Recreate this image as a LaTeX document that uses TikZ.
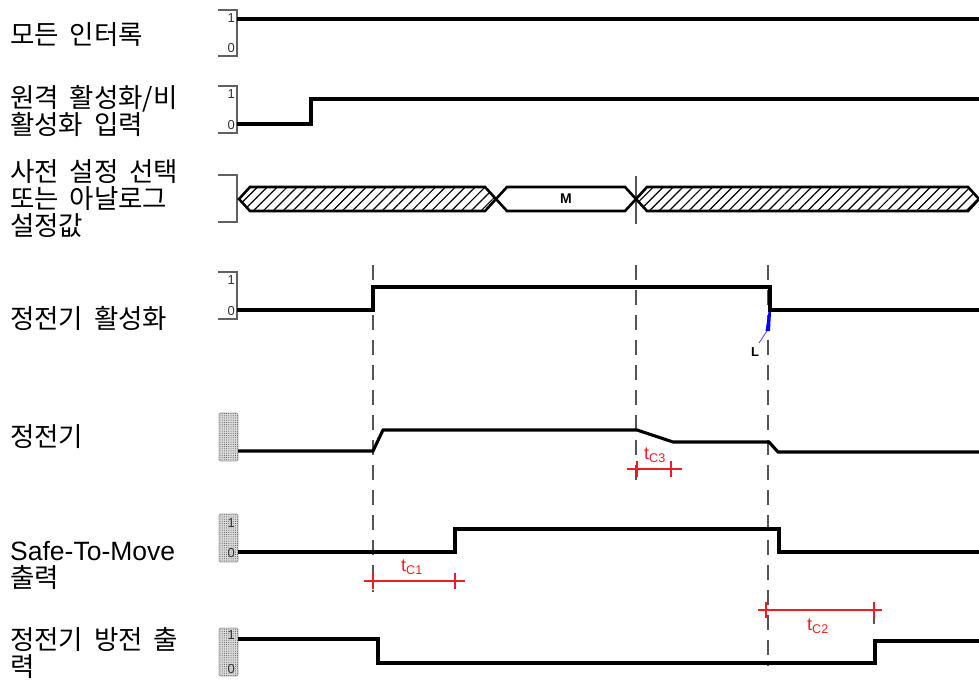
\documentclass[tikz,border=0pt]{standalone}
\usepackage{fontspec}
\setmainfont{Liberation Sans}
\newfontfamily\kfont{Noto Sans CJK KR}[WordSpace=1.8]
\usetikzlibrary{patterns.meta}
\definecolor{tickred}{RGB}{240,30,30}
\definecolor{guidegray}{RGB}{85,85,85}

\begin{document}
\begin{tikzpicture}[x=1pt,y=-1pt,
    lbl/.style={anchor=west,inner sep=0,align=left,font=\kfont\fontsize{26.5}{27}\selectfont},
    sig/.style={line width=3.1pt,black,line join=miter},
    axisbr/.style={gray!75!black,line width=1.3pt},
    lvl/.style={anchor=east,inner sep=0,text=black!80,font=\fontsize{13}{13}\selectfont},
    boxsig/.style={draw=gray!70,rounded corners=1.5pt,line width=0.8pt,fill=gray!30,
        postaction={pattern={Dots[distance=2.2pt,radius=0.5pt]},pattern color=gray!70!black}},
    bus/.style={draw,line width=2.6pt,line join=miter},
    hatch/.style={pattern={Lines[angle=45,distance=7pt,line width=1.2pt]}},
    guide/.style={guidegray,line width=1.2pt,dash pattern=on 15pt off 10pt},
    tmark/.style={tickred,line width=1.4pt},
    tlbl/.style={inner sep=0,text=tickred,font=\fontsize{18}{18}\selectfont}
]
    \useasboundingbox (0,0) rectangle (979,682);

    % row labels
    \node[lbl] (lockall) at (10,35) {모든 인터록};
    \node[lbl] (remote) at (10,111) {원격 활성화/비\\활성화 입력};
    \node[lbl] (preset) at (10,199) {사전 설정 선택\\또는 아날로그\\설정값};
    \node[lbl] (esact) at (10,318) {정전기 활성화};
    \node[lbl] (es) at (10,437) {정전기};
    \node[lbl] (stm) at (10,565) {{\rmfamily\fontsize{26.5}{27}\selectfont Safe-To-Move}\\출력};
    \node[lbl] (esout) at (10,653) {정전기 방전 출\\력};

    % level brackets
    \foreach \yt/\yb/\nm in {10/56/lock, 86/133/remote, 272/319/esact}{
        \draw[axisbr] (218,\yt) -- (237,\yt) -- (237,\yb) -- (218,\yb);
        \node[lvl] (\nm-hi) at (235,\yt+8) {1};
        \node[lvl] (\nm-lo) at (235,\yb-8) {0};
    }
    \draw[axisbr] (218,175) -- (237,175) -- (237,222) -- (218,222);
    \draw[boxsig] (219,413) rectangle (238,461);
    \draw[boxsig] (219,514) rectangle (238,562);
    \node[lvl] (stm-hi) at (235,523) {1};
    \node[lvl] (stm-lo) at (235,553) {0};
    \draw[boxsig] (219,628) rectangle (238,676);
    \node[lvl] (esout-hi) at (235,635) {1};
    \node[lvl] (esout-lo) at (235,669) {0};

    % time guides
    \draw[guide] (373,265) -- (373,592);
    \draw[guide] (636,265) -- (636,480);
    \draw[guide] (768,265) -- (768,666);
    \draw[guidegray,line width=1.3pt] (636,176) -- (636,224);

    % set value bus
    \draw[bus,hatch] (239,199) -- (250,187) -- (485,187) -- (496,199) -- (485,211) -- (250,211) -- cycle;
    \draw[bus,fill=white] (496,199) -- (507,187) -- (625,187) -- (636,199) -- (625,211) -- (507,211) -- cycle;
    \draw[bus,hatch] (636,199) -- (647,187) -- (968,187) -- (979,199) -- (968,211) -- (647,211) -- cycle;
    \node[font=\bfseries\fontsize{14}{14}\selectfont] (modeM) at (566,199) {M};

    % signals
    \draw[sig] (237,19) -- (979,19);
    \draw[sig] (237,124) -- (311,124) -- (311,99) -- (979,99);
    \draw[sig] (237,310) -- (373,310) -- (373,287) -- (770,287) -- (770,310) -- (979,310);
    \draw[sig] (238,451) -- (373,451) -- (383,430) -- (637,430) -- (673,442) -- (769,442) -- (778,452) -- (979,452);
    \draw[sig] (238,552) -- (455,552) -- (455,529) -- (779,529) -- (779,552) -- (979,552);
    \draw[sig] (238,639) -- (378,639) -- (378,663) -- (875,663) -- (875,641) -- (979,641);

    % L marker
    \fill[blue] (768.5,312) -- (771,312) -- (770,331) -- (765.5,331) -- cycle;
    \draw[blue!75,line width=0.8pt] (767,331) -- (759,343);
    \node[font=\bfseries\fontsize{13}{13}\selectfont] (markL) at (755,352) {L};

    % delay times
    \draw[tmark] (627,469) -- (682,469);
    \draw[tmark] (637,461) -- (637,477) (671,461) -- (671,477);
    \node[tlbl] (tc3) at (655,455) {t\textsubscript{C3}};

    \draw[tmark] (364,581) -- (465,581);
    \draw[tmark] (373,573) -- (373,589) (455,573) -- (455,589);
    \node[tlbl] (tc1) at (412,567) {t\textsubscript{C1}};

    \draw[tmark] (758,610) -- (882,610);
    \draw[tmark] (766,602) -- (766,618) (874,602) -- (874,618);
    \draw[guidegray,line width=1.2pt] (874,618) -- (874,624);
    \node[tlbl] (tc2) at (818,626) {t\textsubscript{C2}};
\end{tikzpicture}
\end{document}
